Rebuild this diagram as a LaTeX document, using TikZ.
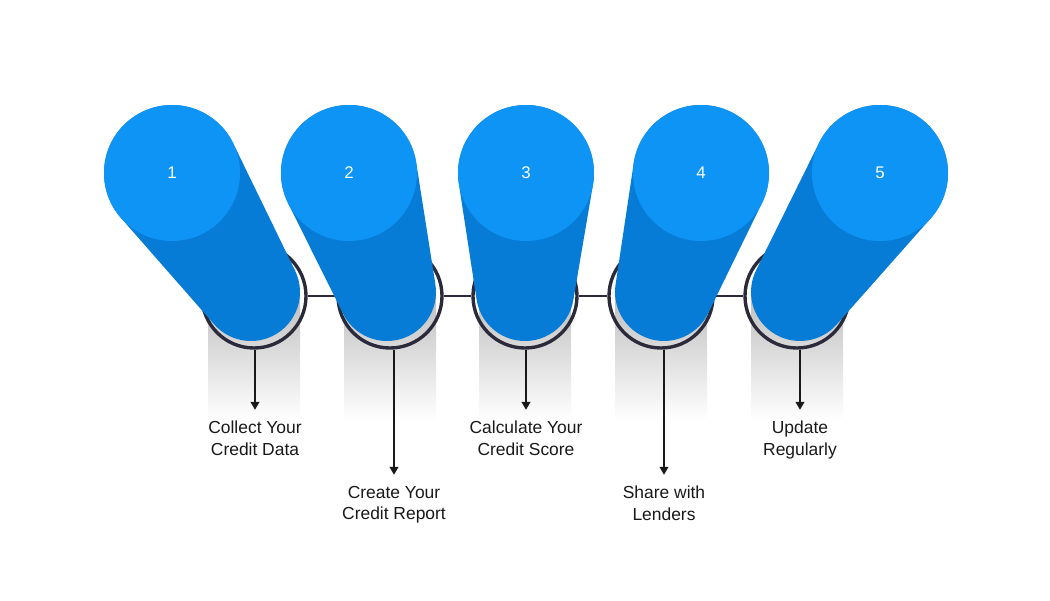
\documentclass[tikz,border=0pt]{standalone}
\usepackage{fontspec}
\setmainfont{Liberation Sans}
\usetikzlibrary{calc,arrows.meta}
\definecolor{pilltop}{HTML}{0D94F5}
\definecolor{pillbody}{HTML}{077CD7}
\definecolor{ringc}{HTML}{2B2A3A}
\newcommand{\pillar}[5]{%
  \pgfmathsetmacro\pdx{#3-#1}\pgfmathsetmacro\pdy{#4-#2}%
  \pgfmathsetmacro\pth{atan2(\pdy,\pdx)}%
  \pgfmathsetmacro\pph{acos(19/veclen(\pdx,\pdy))}%
  \pgfmathsetmacro\pa{\pth+\pph}\pgfmathsetmacro\pb{\pth-\pph}\pgfmathsetmacro\pc{\pth-\pph+360}%
  \fill[pillbody] (#1,#2) ++(\pa:68) arc[start angle=\pa,end angle=\pc,radius=68]
    -- ($(#3,#4)+(\pb:49)$) arc[start angle=\pb,end angle=\pa,radius=49] -- cycle;%
  \fill[pilltop] (#1,#2) circle(68);%
  \node[num] (n#5) at (#1,#2) {#5};%
}

\begin{document}
\begin{tikzpicture}[x=0.25mm,y=-0.25mm,
  ring/.style={circle,draw=ringc,line width=2.4pt,minimum size=26mm,inner sep=0pt},
  link/.style={ringc,line width=1.8pt},
  num/.style={text=white,font=\fontsize{12}{14}\selectfont},
  steptext/.style={anchor=north,align=center,inner sep=0pt,text=black!90,font=\fontsize{12.4}{15}\selectfont},
  arr/.style={black!90,line width=1.1pt,-{Triangle[length=2mm,width=2.2mm]},shorten >=2.8mm}]
  \useasboundingbox (0,0) rectangle (1050,600);
  \foreach \x [count=\i] in {254,390,525,661,797}{
    \shade[top color=black!25,bottom color=white] (\x-46,296) rectangle (\x+46,420);
    \node[ring] (r\i) at (\x,296) {};}
  \draw[link] (r1)--(r2) (r2)--(r3) (r3)--(r4) (r4)--(r5);
  \pillar{172}{173}{251}{292}{1}
  \pillar{349}{173}{387}{292}{2}
  \pillar{526}{173}{525}{292}{3}
  \pillar{701}{173}{664}{292}{4}
  \pillar{880}{173}{800}{292}{5}
  \node[steptext] (t1) at (255,421) {Collect Your\\Credit Data};
  \node[steptext] (t2) at (394,486) {Create Your\\Credit Report};
  \node[steptext] (t3) at (526,421) {Calculate Your\\Credit Score};
  \node[steptext] (t4) at (664,486) {Share with\\Lenders};
  \node[steptext] (t5) at (800,421) {Update\\Regularly};
  \foreach \i in {1,...,5} \draw[arr] (t\i.north |- r\i.south) -- (t\i.north);
\end{tikzpicture}
\end{document}
